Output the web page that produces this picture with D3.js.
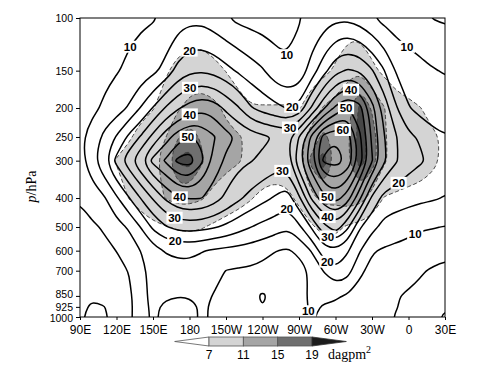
<!DOCTYPE html>
<html>
<head>
<meta charset="utf-8">
<title>Longitude-pressure section</title>
<script src="https://cdn.jsdelivr.net/npm/d3@7"></script>
<style>
  html, body { margin: 0; padding: 0; background: #fff; }
</style>
</head>
<body>
<div id="chart"></div>
<script>
// ---------------- values ----------------
// grid longitudes, degrees east counted on past the dateline (210 = 150W, 360 = 0, 390 = 30E)
var lons = [90, 100, 110, 120, 130, 140, 150, 160, 170, 180, 190, 200, 210, 220, 230, 240,
            250, 260, 270, 280, 290, 300, 310, 320, 330, 340, 350, 360, 370, 380, 390];
var levels = [100, 150, 200, 250, 300, 400, 500, 600, 700, 850, 925, 1000];

var lonTicks = [90, 120, 150, 180, 210, 240, 270, 300, 330, 360, 390];
var lonTickLabels = ['90E', '120E', '150E', '180', '150W', '120W', '90W', '60W', '30W', '0', '30E'];
var levelTicks = [100, 150, 200, 250, 300, 400, 500, 600, 700, 850, 925, 1000];

var lineLevels = [5, 10, 15, 20, 25, 30, 35, 40, 45, 50, 55, 60, 65];
var shadeLevels = [7, 11, 15, 19];

// solid contour field, one row per pressure level
var line100  = [7, 7.5, 8, 8.5, 9, 9.3, 9.6, 10.8, 12.5, 13.5, 13.5, 12, 10.1, 8.8, 8, 7.5, 8, 8.8, 9.7, 11, 12.5, 13.8, 14, 12.5, 10.1, 8.5, 7.3, 6.4, 5.6, 4.9, 4.3];
var line150  = [8, 8.6, 9.2, 9.7, 10.7, 12, 13.7, 16.5, 21.5, 24, 24.5, 23.5, 21.5, 19.3, 17.3, 15.5, 12, 10.5, 11.5, 17, 23, 28.5, 30.5, 29.5, 25.5, 20.3, 14.5, 12.7, 11.5, 10.3, 9.7];
var line200  = [8.3, 9.2, 10.5, 12.7, 15.5, 20.3, 25.3, 30.2, 34.2, 37, 38.5, 37.5, 34, 30.5, 25.5, 23, 21.5, 19.8, 21, 30.3, 39, 46, 50.5, 47, 37, 28, 20.4, 15.3, 13, 12.3, 12];
var line250  = [9.3, 11.5, 16.5, 20.5, 26, 30.5, 36.5, 42.5, 47.5, 50.5, 49, 45.5, 41.5, 39.5, 37.5, 36, 34.8, 33.5, 40.2, 51, 62, 64.5, 63, 51, 39, 30.3, 25.3, 21, 19.5, 16.5, 15.3];
var line300  = [8, 13.5, 19.5, 26.5, 33, 39.5, 46.5, 50.5, 56, 57.5, 51, 43.5, 39, 36.5, 35.3, 34, 32.5, 32.5, 44, 54, 65.8, 67.5, 64, 53, 40.5, 31, 25.5, 22, 20.5, 19, 17];
var line400  = [5.3, 7.2, 9.5, 14.3, 19.6, 25.2, 30.5, 35.7, 39.5, 40.5, 40.2, 37.5, 34, 31, 28.5, 26.5, 24.5, 22.5, 29, 40.5, 48.5, 52, 47.5, 36, 24, 18, 17, 16.5, 16, 15.5, 14.8];
var line500  = [3.8, 4.4, 5.4, 8.2, 10.5, 15.2, 21, 24.5, 26.5, 27, 26.5, 25.5, 24, 22, 20.2, 18.5, 17.5, 15.5, 19, 25.3, 33, 38, 31, 20.5, 16.5, 13.5, 12.8, 11.8, 10.5, 10.3, 9.8];
var line600  = [3.5, 3.8, 4.2, 5.05, 7.3, 10.1, 13, 15.3, 16, 16.2, 15.3, 14.3, 13.7, 13.2, 12.6, 11.7, 10.2, 9.5, 10.8, 15.2, 23, 24, 20.5, 15.3, 10.4, 9.4, 8.6, 8, 7.4, 6.6, 5.8];
var line700  = [3.3, 3.5, 3.8, 4.1, 5.1, 8.7, 11.5, 13, 13.5, 13.3, 12.5, 11.2, 9.9, 9.5, 9.3, 8.5, 7.5, 7.3, 8.5, 10.5, 15.2, 19.5, 17, 10.8, 8.8, 8, 7.3, 6.5, 5.3, 4.6, 4.3];
var line850  = [4.2, 4.6, 4.4, 4.1, 4.2, 7.2, 12.5, 11, 10.2, 10.3, 11, 9.8, 8, 7, 6.2, 4.4, 6.2, 7, 8.3, 11, 10.6, 10.4, 9.6, 8.5, 7.5, 6.3, 5.2, 4.5, 4.2, 4, 4];
var line925  = [4.3, 5.4, 5.05, 4.1, 4, 7.3, 11.5, 8.7, 8.2, 8.6, 10.6, 9.4, 7.5, 6.5, 5.8, 5.05, 5.9, 6.8, 8.3, 10.6, 9.8, 9.5, 9.3, 8.2, 7, 6, 5.1, 4.4, 4, 3.9, 4.6];
var line1000 = [4.5, 6, 5.3, 4.2, 4, 7.5, 11, 8.5, 8, 8.5, 10.8, 9.2, 7.3, 6.3, 5.8, 5.6, 6, 7, 8.8, 10.3, 9.3, 9.4, 9.3, 8.1, 6.9, 5.8, 4.8, 4.3, 4, 4, 5.5];

// shaded field (dagpm^2), one row per pressure level
var shade100  = [2, 2, 2, 2.2, 2.5, 2.8, 3, 3.5, 4, 4.2, 4.2, 4, 3.5, 3.2, 3, 3, 3, 3.2, 3.5, 4, 4.3, 4.5, 4.5, 4.5, 4, 3.5, 3, 2.8, 2.5, 2.3, 2.2];
var shade150  = [3, 3.2, 3.5, 3.8, 4.2, 4.6, 5.2, 6.5, 8, 9, 9, 8, 6.9, 5.5, 5, 4.8, 4.8, 5, 5.2, 5.6, 6, 7.5, 10, 10.5, 7.8, 6.2, 5.2, 4.8, 4.5, 4.2, 4];
var shade200  = [3, 3.5, 4, 4.5, 5.2, 6, 6.8, 8.5, 10.5, 12, 12.5, 12, 10.3, 8.5, 7.2, 7.2, 7.2, 7.2, 6.8, 8.5, 11.3, 12.5, 13.5, 20, 14.5, 11.2, 8.5, 7.8, 7.05, 5.8, 5];
var shade250  = [4, 4.5, 5, 5.5, 6.6, 8, 9.2, 10.8, 14.5, 17, 14.5, 13, 12, 11.3, 10.5, 9, 8.5, 8.5, 9.5, 12.5, 16, 13.5, 14, 21, 17, 11.5, 9, 8.2, 8, 7.5, 6.5];
var shade300  = [4.5, 5, 5.8, 7.2, 8.2, 9.2, 10.3, 12.5, 19.5, 21, 15.5, 13, 12, 11.3, 10.3, 9, 8.5, 8.5, 10, 16, 21.5, 14, 14.5, 21, 17, 11.5, 9.5, 8.8, 8.3, 7.5, 6.5];
var shade400  = [3.5, 4, 4.5, 5.5, 7.05, 8.5, 9.8, 11.1, 12, 12, 11.3, 10, 9, 8, 7.2, 6.3, 6, 6.4, 7.5, 10, 12, 12, 13, 12.5, 9.5, 6.8, 6.5, 6.2, 6, 5.8, 5.5];
var shade500  = [3, 3.2, 3.5, 4, 4.5, 5.3, 6.2, 6.8, 7.3, 7.5, 7.2, 6.5, 5.8, 5.5, 5.2, 5, 4.8, 5, 5.8, 6.6, 7.8, 7.8, 6.5, 5.8, 5.3, 5, 4.8, 4.6, 4.5, 4.3, 4];
var shade600  = [3, 3, 3.2, 3.4, 3.6, 3.8, 4.2, 4.6, 5, 5.2, 5, 4.6, 4.2, 4, 3.8, 3.8, 3.8, 4, 4.5, 5, 5.5, 5.5, 5, 4.6, 4.2, 4, 3.8, 3.6, 3.5, 3.4, 3.2];
var shade700  = [2.6, 2.6, 2.7, 2.8, 3, 3.2, 3.5, 3.8, 4, 4.1, 4, 3.7, 3.4, 3.2, 3.1, 3, 3, 3.2, 3.5, 3.9, 4.2, 4.2, 3.9, 3.6, 3.3, 3.1, 3, 2.9, 2.8, 2.7, 2.6];
var shade850  = [2, 2, 2.1, 2.2, 2.3, 2.5, 2.7, 2.9, 3, 3.1, 3, 2.8, 2.6, 2.5, 2.4, 2.3, 2.3, 2.4, 2.6, 2.9, 3.1, 3.1, 2.9, 2.7, 2.5, 2.4, 2.3, 2.2, 2.1, 2.1, 2];
var shade925  = [1.8, 1.8, 1.9, 2, 2.1, 2.2, 2.4, 2.6, 2.7, 2.8, 2.7, 2.5, 2.3, 2.2, 2.1, 2.1, 2.1, 2.2, 2.3, 2.6, 2.8, 2.8, 2.6, 2.4, 2.3, 2.2, 2.1, 2, 1.9, 1.9, 1.8];
var shade1000 = [1.6, 1.6, 1.7, 1.8, 1.9, 2, 2.2, 2.3, 2.4, 2.5, 2.4, 2.2, 2.1, 2, 1.9, 1.9, 1.9, 2, 2.1, 2.3, 2.5, 2.5, 2.3, 2.2, 2.1, 2, 1.9, 1.8, 1.7, 1.7, 1.6];

// contour labels: value, and roughly where along the line it is written
var labelValues = [10, 20, 30, 40, 50, 40, 30, 20, 10, 20, 30, 30, 20, 10, 40, 50, 60, 50, 40, 30, 20, 20, 10, 10];
var labelLons   = [141, 180, 180, 180, 180, 172, 168, 168, 260, 263, 264, 257, 258.5, 353, 312, 309.5, 306, 293, 293, 293, 293, 355.5, 365, 268];
var labelLevels = [133, 128, 168, 208, 256, 397, 463, 563, 136, 191, 237, 335, 422, 133, 177, 203, 232, 400, 466, 543, 655, 370, 524, 963];

var lineRows = [line100, line150, line200, line250, line300, line400, line500, line600, line700, line850, line925, line1000];
var shadeRows = [shade100, shade150, shade200, shade250, shade300, shade400, shade500, shade600, shade700, shade850, shade925, shade1000];

function renderContourChart(params) {

  // Exposed variables
  var attrs = {
    svgWidth: 501,
    svgHeight: 370,
    marginTop: 18,
    marginBottom: 53,
    marginLeft: 80,
    marginRight: 56,
    container: 'body',
    tickFont: '"Liberation Sans", Arial, Helvetica, sans-serif',
    serifFont: '"Liberation Serif", "Times New Roman", serif',
    shadeColors: ['#d4d4d4', '#a5a5a5', '#6f6f6f', '#474747'],
    barEndColor: '#1c1c1c',
    dashColor: '#3a3a3a'
  };

  Object.keys(params || {}).forEach(function (k) { attrs[k] = params[k]; });

  //Main chart object
  var main = function (selection) {
    selection.each(function () {

      //Calculated properties
      var calc = {};
      calc.left = attrs.marginLeft;
      calc.top = attrs.marginTop;
      calc.right = attrs.svgWidth - attrs.marginRight;
      calc.bottom = attrs.svgHeight - attrs.marginBottom;

      var x = d3.scaleLinear().domain([lons[0], lons[lons.length - 1]]).range([calc.left, calc.right]);
      var y = d3.scaleLog().domain([levels[0], levels[levels.length - 1]]).range([calc.top, calc.bottom]);
      var lonPx = lons.map(x);
      var levelPx = levels.map(y);

      //Drawing containers
      var container = d3.select(this);
      container.html('');

      var svg = container.patternify({ tag: 'svg', selector: 'svg-chart-container' })
        .attr('width', attrs.svgWidth)
        .attr('height', attrs.svgHeight)
        .style('display', 'block');

      svg.append('defs').append('clipPath').attr('id', 'plot-clip')
        .append('rect')
        .attr('x', calc.left).attr('y', calc.top)
        .attr('width', calc.right - calc.left)
        .attr('height', calc.bottom - calc.top);

      var plot = svg.patternify({ tag: 'g', selector: 'plot' })
        .attr('clip-path', 'url(#plot-clip)');

      // grids padded by one cell so that every ring closes outside the frame
      var lineGrid = padGrid(lineRows);
      var shadeGrid = padGrid(shadeRows);
      var smoothRing = d3.line().curve(d3.curveBasisClosed);

      var shadeRings = shadeLevels.map(function (v) { return ringsFor(shadeGrid, v); });
      var lineRings = {};
      lineLevels.forEach(function (v) { lineRings[v] = ringsFor(lineGrid, v); });

      // shaded field
      plot.selectAll('path.shade')
        .data(shadeRings)
        .enter().append('path')
        .attr('class', 'shade')
        .attr('d', ringsPath)
        .attr('fill', function (d, i) { return attrs.shadeColors[i]; })
        .attr('fill-rule', 'evenodd')
        .attr('stroke', 'none');

      plot.selectAll('path.shade-edge')
        .data(shadeRings)
        .enter().append('path')
        .attr('class', 'shade-edge')
        .attr('d', ringsPath)
        .attr('fill', 'none')
        .attr('stroke', attrs.dashColor)
        .attr('stroke-width', 0.9)
        .attr('stroke-dasharray', '4,2.5');

      // solid contours
      plot.selectAll('path.line')
        .data(lineLevels)
        .enter().append('path')
        .attr('class', 'line')
        .attr('d', function (v) { return ringsPath(lineRings[v]); })
        .attr('fill', 'none')
        .attr('stroke', '#000')
        .attr('stroke-width', 1.5)
        .attr('stroke-linejoin', 'round');

      // contour labels
      var labels = svg.patternify({ tag: 'g', selector: 'contour-labels' });
      labelValues.forEach(function (v, i) {
        var pos = nearestOnRings(lineRings[v], [x(labelLons[i]), y(labelLevels[i])]);
        var g = labels.append('g').attr('transform', 'translate(' + pos[0] + ',' + pos[1] + ')');
        var w = String(v).length * 6.6 + 3;
        g.append('rect')
          .attr('x', -w / 2).attr('y', -6)
          .attr('width', w).attr('height', 12)
          .attr('fill', '#fff');
        g.append('text')
          .attr('text-anchor', 'middle')
          .attr('dy', '0.36em')
          .attr('font-family', attrs.tickFont)
          .attr('font-size', 11.5)
          .attr('font-weight', 'bold')
          .attr('fill', '#000')
          .text(v);
      });

      // frame
      svg.append('rect')
        .attr('x', calc.left).attr('y', calc.top)
        .attr('width', calc.right - calc.left)
        .attr('height', calc.bottom - calc.top)
        .attr('fill', 'none')
        .attr('stroke', '#000')
        .attr('stroke-width', 1);

      // axes
      var yAxis = d3.axisLeft(y).tickValues(levelTicks).tickFormat(d3.format('d')).tickSize(4).tickSizeOuter(0);
      var yg = svg.append('g')
        .attr('transform', 'translate(' + calc.left + ',0)')
        .call(yAxis)
        .attr('font-family', attrs.tickFont)
        .attr('font-size', 10.5)
        .call(function (g) { g.select('.domain').remove(); });
      // the three lowest levels sit very close together; spread their labels a touch
      yg.selectAll('.tick text').attr('y', function (d) {
        return d === 850 ? -1.5 : d === 1000 ? 1.5 : 0;
      });

      var xAxis = d3.axisBottom(x).tickValues(lonTicks)
        .tickFormat(function (d, i) { return lonTickLabels[i]; })
        .tickSize(3).tickPadding(5).tickSizeOuter(0);
      svg.append('g')
        .attr('transform', 'translate(0,' + calc.bottom + ')')
        .call(xAxis)
        .attr('font-family', attrs.tickFont)
        .attr('font-size', 12)
        .call(function (g) { g.select('.domain').remove(); });

      svg.selectAll('.tick text').attr('fill', '#000');

      var yTitle = svg.append('text')
        .attr('transform', 'translate(36,' + ((calc.top + calc.bottom) / 2 + 19) + ') rotate(-90)')
        .attr('text-anchor', 'middle')
        .attr('font-family', attrs.serifFont)
        .attr('font-size', 14)
        .attr('fill', '#000');
      yTitle.append('tspan').attr('font-style', 'italic').text('p');
      yTitle.append('tspan').text('/hPa');

      drawColorbar();

      //#########################################  UTIL FUNCS ##################################

      function padGrid(rows) {
        var nx = lons.length + 2, ny = levels.length + 2;
        var values = new Array(nx * ny);
        for (var j = 0; j < ny; j++) {
          var row = rows[Math.min(Math.max(j - 1, 0), levels.length - 1)];
          for (var i = 0; i < nx; i++) {
            values[j * nx + i] = row[Math.min(Math.max(i - 1, 0), lons.length - 1)];
          }
        }
        return { nx: nx, ny: ny, values: values };
      }

      function interp(arr, t) {
        var k = Math.max(0, Math.min(arr.length - 2, Math.floor(t)));
        return arr[k] + (arr[k + 1] - arr[k]) * (t - k);
      }

      // contour coords -> pixels (value i sits at i + 0.5, plus one padding cell)
      function toPixel(pt) {
        return [interp(lonPx, pt[0] - 1.5), interp(levelPx, pt[1] - 1.5)];
      }

      function ringsFor(grid, value) {
        var geo = d3.contours().size([grid.nx, grid.ny]).contour(grid.values, value);
        var rings = [];
        geo.coordinates.forEach(function (poly) {
          poly.forEach(function (ring) {
            rings.push(ring.slice(0, -1).map(toPixel));
          });
        });
        return rings;
      }

      function ringsPath(rings) {
        return rings.filter(function (r) { return r.length > 2; }).map(smoothRing).join('');
      }

      function nearestOnRings(rings, p) {
        var best = null, bestD = Infinity;
        rings.forEach(function (ring) {
          for (var k = 0; k < ring.length; k++) {
            var a = ring[k], b = ring[(k + 1) % ring.length];
            var dx = b[0] - a[0], dy = b[1] - a[1], l2 = dx * dx + dy * dy;
            var t = l2 ? Math.max(0, Math.min(1, ((p[0] - a[0]) * dx + (p[1] - a[1]) * dy) / l2)) : 0;
            var q = [a[0] + t * dx, a[1] + t * dy];
            if (q[0] < calc.left + 6 || q[0] > calc.right - 6 || q[1] < calc.top + 5 || q[1] > calc.bottom - 4) continue;
            var d = (q[0] - p[0]) * (q[0] - p[0]) + (q[1] - p[1]) * (q[1] - p[1]);
            if (d < bestD) { bestD = d; best = q; }
          }
        });
        return best || p;
      }

      function drawColorbar() {
        var cb = svg.patternify({ tag: 'g', selector: 'colorbar' });
        var top = 337, h = 9;
        var first = shadeLevels[0], last = shadeLevels[shadeLevels.length - 1];
        var cx = d3.scaleLinear().domain([first, last]).range([209, 312]);
        var step = cx(shadeLevels[1]) - cx(shadeLevels[0]);

        // below-first triangle
        cb.append('path')
          .attr('d', 'M' + (cx(first) - step) + ',' + (top + h / 2) + 'L' + cx(first) + ',' + top + 'L' + cx(first) + ',' + (top + h) + 'Z')
          .attr('fill', '#fff').attr('stroke', '#555').attr('stroke-width', 0.8);

        cb.selectAll('rect.seg')
          .data(d3.pairs(shadeLevels))
          .enter().append('rect')
          .attr('class', 'seg')
          .attr('x', function (d) { return cx(d[0]); })
          .attr('y', top)
          .attr('width', function (d) { return cx(d[1]) - cx(d[0]); })
          .attr('height', h)
          .attr('fill', function (d, i) { return attrs.shadeColors[i]; })
          .attr('stroke', '#555').attr('stroke-width', 0.8);

        // above-last triangle
        cb.append('path')
          .attr('d', 'M' + cx(last) + ',' + top + 'L' + (cx(last) + step) + ',' + (top + h / 2) + 'L' + cx(last) + ',' + (top + h) + 'Z')
          .attr('fill', attrs.barEndColor).attr('stroke', '#333').attr('stroke-width', 0.8);

        cb.selectAll('text.cbl')
          .data(shadeLevels)
          .enter().append('text')
          .attr('class', 'cbl')
          .attr('x', function (d) { return cx(d); })
          .attr('y', 359)
          .attr('text-anchor', 'middle')
          .attr('font-family', attrs.tickFont)
          .attr('font-size', 12)
          .attr('fill', '#000')
          .text(function (d) { return d; });

        var unit = cb.append('text')
          .attr('x', cx(last) + 16)
          .attr('y', 359)
          .attr('font-family', attrs.serifFont)
          .attr('font-size', 14)
          .attr('fill', '#000');
        unit.append('tspan').text('dagpm');
        unit.append('tspan').attr('font-size', 10).attr('dy', -6).text('2');
      }
    });
  };

  //----------- PROTOTYPE FUNCTIONS  ----------------------
  d3.selection.prototype.patternify = function (params) {
    var container = this;
    var selector = params.selector;
    var data = params.data || [selector];
    var selection = container.selectAll('.' + selector).data(data);
    selection.exit().remove();
    selection = selection.enter().append(params.tag).merge(selection);
    selection.attr('class', selector);
    return selection;
  };

  main.run = function () {
    d3.selectAll(attrs.container).call(main);
    return main;
  };

  return main;
}

renderContourChart({ container: '#chart' }).run();
</script>
</body>
</html>
